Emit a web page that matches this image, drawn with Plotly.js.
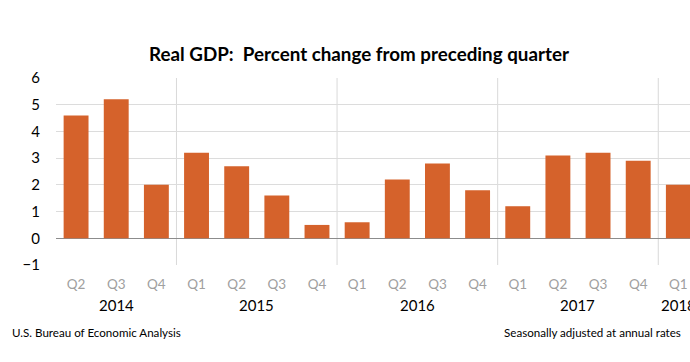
<!DOCTYPE html>
<html>
<head>
<meta charset="utf-8">
<script src="https://cdn.plot.ly/plotly-3.0.1.min.js"></script>
<style>html,body{margin:0;padding:0;background:#fff;}#chart{width:690px;height:362px;}</style>
</head>
<body>
<div id="chart"></div>
<script>
const years = ["2014","2014","2014","2015","2015","2015","2015","2016","2016","2016","2016","2017","2017","2017","2017","2018"];
const quarters = ["Q2","Q3","Q4","Q1","Q2","Q3","Q4","Q1","Q2","Q3","Q4","Q1","Q2","Q3","Q4","Q1"];
const gdpChange = [4.6,5.2,2.0,3.2,2.7,1.6,0.5,0.6,2.2,2.8,1.8,1.2,3.1,3.2,2.9,2.0];
const yTicks = [-1,0,1,2,3,4,5,6];

const cats = years.map((y,i)=> y + " " + quarters[i]);

// year groups
const groups = [];
years.forEach((y,i)=>{
  const g = groups[groups.length-1];
  if (g && g.year === y) { g.end = i; } else { groups.push({year:y,start:i,end:i}); }
});

const shapes = groups.slice(1).map(g => ({
  type:'line', xref:'x', yref:'paper', x0:g.start-0.5, x1:g.start-0.5, y0:0, y1:1,
  line:{color:'#d9d9d9', width:1}, layer:'below'
}));

const fontMain = 'Lato, "Open Sans", sans-serif';
const annotations = groups.map(g => ({
  xref:'x', yref:'paper', x:(g.start+g.end)/2, y:-0.2134, yanchor:'middle', xanchor:'center',
  text:g.year, showarrow:false, font:{family:fontMain, size:15, color:'#000'}
}));
annotations.push({xref:'paper', yref:'paper', x:(10-56)/634, xanchor:'left', y:-0.363, yanchor:'middle',
  text:'U.S. Bureau of Economic Analysis', showarrow:false, font:{family:fontMain, size:11.6, color:'#000'}});
annotations.push({xref:'paper', yref:'paper', x:(683-56)/634, xanchor:'right', y:-0.363, yanchor:'middle',
  text:'Seasonally adjusted at annual rates', showarrow:false, font:{family:fontMain, size:11.6, color:'#000'}});

const trace = {
  type:'bar', x:cats, y:gdpChange, marker:{color:'#D5622B'}, width:0.62,
  hoverinfo:'skip'
};

const layout = {
  width:690, height:362,
  margin:{l:56, r:0, t:78, b:97, pad:0},
  paper_bgcolor:'#fff', plot_bgcolor:'#fff',
  showlegend:false,
  title:{text:'<b>Real GDP:  Percent change from preceding quarter</b>', x:(359)/690, xanchor:'center',
    yref:'container', y:1-54/362, yanchor:'middle', font:{family:fontMain, size:18.8, color:'#000'}},
  xaxis:{type:'category', tickvals:cats, ticktext:quarters, range:[-0.5, 15.29],
    showgrid:false, showline:false, zeroline:false, ticks:'', ticklabelstandoff:9,
    tickfont:{family:fontMain, size:13.5, color:'#a0a0a0'}, fixedrange:true},
  yaxis:{range:[-1,6], tickvals:yTicks, showgrid:true, gridcolor:'#dcdcdc', gridwidth:1,
    zeroline:true, zerolinecolor:'#8c8c8c', zerolinewidth:1.5, showline:false, ticks:'',
    ticklabelstandoff:15, tickfont:{family:fontMain, size:15, color:'#000'}, fixedrange:true},
  shapes:shapes, annotations:annotations
};

Plotly.newPlot('chart', [trace], layout, {staticPlot:true, displayModeBar:false});
</script>
</body>
</html>
